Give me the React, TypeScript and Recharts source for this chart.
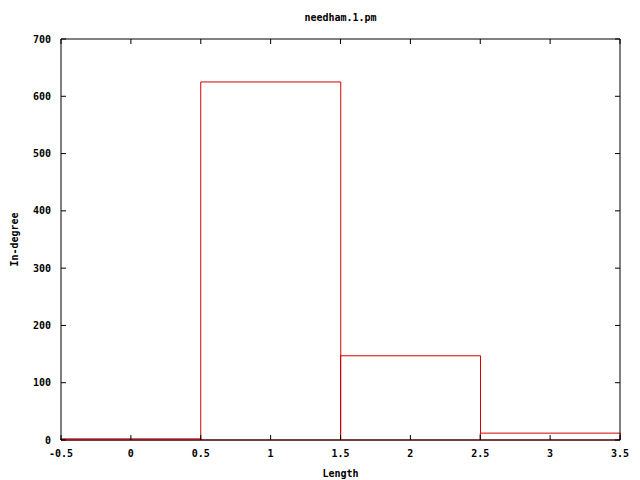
import { BarChart, Bar, XAxis, YAxis } from 'recharts';

const lengths = [0, 1, 2, 3];
const inDegree = [2, 625, 147, 12];
const xTicks = [-0.5, 0, 0.5, 1, 1.5, 2, 2.5, 3, 3.5];
const yTicks = [0, 100, 200, 300, 400, 500, 600, 700];

const data = lengths.map((l, i) => ({ length: l, indegree: inDegree[i] }));

const FONT = '"DejaVu Sans Mono", monospace';
const FS = 10;
const TICK_LEN = 5;
const MARGIN = 10;

const BottomTick = ({ x, y, payload }: any) => (
  <g>
    <line x1={x} x2={x} y1={y - MARGIN} y2={y - MARGIN - TICK_LEN} stroke="#000" />
    <text x={x} y={y} dy="0.71em" textAnchor="middle" fontFamily={FONT} fontSize={FS} fontWeight="bold" fill="#000">
      {String(payload.value)}
    </text>
  </g>
);

// mirrored ticks on top / right border, pointing inward
const TopTick = ({ x, y }: any) => (
  <line x1={x} x2={x} y1={y} y2={y + TICK_LEN} stroke="#000" />
);

const LeftTick = ({ x, y, payload }: any) => (
  <g>
    <line x1={x + MARGIN} x2={x + MARGIN + TICK_LEN} y1={y} y2={y} stroke="#000" />
    <text x={x} y={y} dy="0.35em" textAnchor="end" fontFamily={FONT} fontSize={FS} fontWeight="bold" fill="#000">
      {String(payload.value)}
    </text>
  </g>
);

const RightTick = ({ x, y }: any) => (
  <line x1={x} x2={x - TICK_LEN} y1={y} y2={y} stroke="#000" />
);

export default function App() {
  return (
    <div style={{ position: 'relative', width: 640, height: 480, background: '#fff' }}>
      <style>{'body{margin:0}'}</style>
      <div
        style={{
          position: 'absolute',
          top: 13,
          left: 61,
          width: 559,
          textAlign: 'center',
          fontFamily: FONT,
          fontSize: FS,
          fontWeight: 'bold',
          lineHeight: '10px',
        }}
      >
        needham.1.pm
      </div>
      <BarChart
        width={640}
        height={480}
        data={data}
        barCategoryGap={0}
        barGap={0}
        margin={{ top: 38, right: 19, left: 0, bottom: 0 }}
      >
        <XAxis xAxisId="cat" dataKey="length" type="category" hide height={0} />
        <XAxis
          xAxisId="num"
          dataKey="length"
          type="number"
          domain={[-0.5, 3.5]}
          ticks={xTicks}
          allowDataOverflow
          height={40}
          tickSize={0}
          tickMargin={MARGIN}
          tickLine={false}
          tick={<BottomTick />}
          axisLine={{ stroke: '#000' }}
          interval={0}
          label={{
            value: 'Length',
            position: 'insideBottom',
            offset: 3,
            style: { fontFamily: FONT, fontSize: FS, fontWeight: 'bold', fill: '#000' },
          }}
        />
        <XAxis
          xAxisId="top"
          orientation="top"
          dataKey="length"
          type="number"
          domain={[-0.5, 3.5]}
          ticks={xTicks}
          allowDataOverflow
          height={1}
          tickSize={0}
          tickMargin={0}
          tickLine={false}
          tick={<TopTick />}
          axisLine={{ stroke: '#000' }}
          interval={0}
        />
        <YAxis
          yAxisId="l"
          domain={[0, 700]}
          ticks={yTicks}
          width={61}
          tickSize={0}
          tickMargin={MARGIN}
          tickLine={false}
          tick={<LeftTick />}
          axisLine={{ stroke: '#000' }}
          interval={0}
          label={{
            value: 'In-degree',
            angle: -90,
            position: 'insideLeft',
            offset: 14,
            style: { textAnchor: 'middle', fontFamily: FONT, fontSize: FS, fontWeight: 'bold', fill: '#000' },
          }}
        />
        <YAxis
          yAxisId="r"
          orientation="right"
          dataKey="indegree"
          domain={[0, 700]}
          ticks={yTicks}
          allowDataOverflow
          width={1}
          tickSize={0}
          tickMargin={0}
          tickLine={false}
          tick={<RightTick />}
          axisLine={{ stroke: '#000' }}
          interval={0}
        />
        <Bar
          xAxisId="cat"
          yAxisId="l"
          dataKey="indegree"
          fill="none"
          stroke="#d40000"
          strokeWidth={1}
          isAnimationActive={false}
        />
      </BarChart>
    </div>
  );
}
